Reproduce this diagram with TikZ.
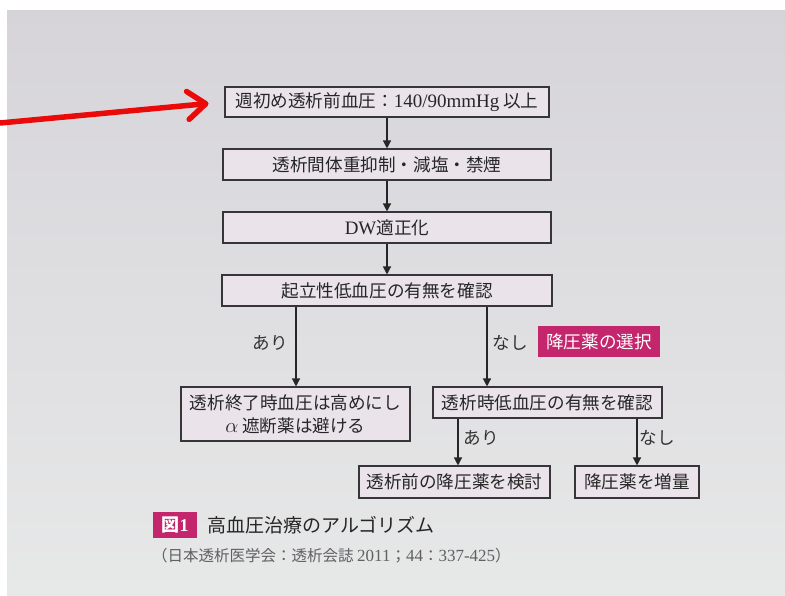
\documentclass[tikz,border=0pt]{standalone}
\usepackage{fontspec}
\setmainfont{Liberation Serif}
\newfontfamily\jp{Noto Sans CJK JP}
\usetikzlibrary{arrows.meta}
\definecolor{pagebg}{RGB}{214,212,217}
\definecolor{pagebg2}{RGB}{231,232,232}
\definecolor{boxfill}{RGB}{234,227,233}
\definecolor{boxline}{RGB}{55,52,58}
\definecolor{magentaA}{RGB}{196,38,110}
\definecolor{citegrey}{RGB}{95,95,100}
\definecolor{redarrow}{RGB}{235,10,10}
\newcommand{\latn}[1]{{\rmfamily\fontsize{19}{23}\selectfont #1}}
\begin{document}
\begin{tikzpicture}[x=1pt,y=-1pt,
  flowbox/.style={draw=boxline, fill=boxfill, line width=1.1pt, inner sep=0pt, align=center,
    font=\jp\fontsize{17.6}{23}\selectfont, text=black!85},
  arr/.style={draw=black!85, line width=1.3pt, -{Triangle[length=8pt,width=8pt]}},
  lbl/.style={font=\jp\fontsize{17.6}{20}\selectfont, text=black!80, inner sep=0pt},
  tagbox/.style={fill=magentaA, text=white, inner sep=0pt},
]
\useasboundingbox (0,0) rectangle (785,595);
\fill[white] (0,0) rectangle (785,595);
\shade[top color=pagebg, bottom color=pagebg2] (7,10) rectangle (785,595);

% main chain
\node[flowbox, minimum width=324pt, minimum height=30pt] (b1) at (387,102)
  {週初め透析前血圧：\latn{140/90mmHg} 以上};
\node[flowbox, minimum width=328pt, minimum height=31pt] (b2) at (387,164.5)
  {透析間体重抑制・減塩・禁煙};
\node[flowbox, minimum width=328pt, minimum height=31pt] (b3) at (387,227.5)
  {\latn{DW}適正化};
\node[flowbox, minimum width=330pt, minimum height=31pt] (b4) at (387,290.5)
  {起立性低血圧の有無を確認};

\draw[arr] (b1) -- (b2);
\draw[arr] (b2) -- (b3);
\draw[arr] (b3) -- (b4);

% second level
\node[flowbox, minimum width=229pt, minimum height=54pt] (b5) at (295.5,414)
  {透析終了時血圧は高めにし\\{\fontsize{21}{23}\selectfont$\alpha$} 遮断薬は避ける};
\node[flowbox, minimum width=229pt, minimum height=31pt] (b6) at (547.5,402.5)
  {透析時低血圧の有無を確認};

\coordinate (xl) at (296,0);
\coordinate (xr) at (487,0);
\draw[arr] (b4.south -| xl) -- (b5.north -| xl);
\draw[arr] (b4.south -| xr) -- (b6.north -| xr);

\node[lbl] (l1) at (270,343) {あり};
\node[lbl] (l2) at (510,343) {なし};
\node[tagbox, minimum width=122pt, minimum height=31pt, font=\jp\fontsize{17.6}{20}\selectfont] (tag) at (599,341.5) {降圧薬の選択};

% third level
\node[flowbox, minimum width=191pt, minimum height=32pt] (b7) at (454.5,482)
  {透析前の降圧薬を検討};
\node[flowbox, minimum width=124pt, minimum height=32pt] (b8) at (637,482)
  {降圧薬を増量};

\coordinate (xa) at (458,0);
\coordinate (xb) at (637,0);
\draw[arr] (b6.south -| xa) -- (b7.north -| xa);
\draw[arr] (b6.south -| xb) -- (b8.north -| xb);

\node[lbl] (l3) at (481,438) {あり};
\node[lbl] (l4) at (657,438) {なし};

% caption
\node[tagbox, minimum width=44pt, minimum height=26pt, font=\fontsize{18}{20}\selectfont\bfseries] (fig) at (175,525)
  {{\jp 図}1};
\node[anchor=west, inner sep=0pt, font=\jp\fontsize{19}{22}\selectfont, text=black!85] (cap) at (207,525)
  {高血圧治療のアルゴリズム};
\node[anchor=west, inner sep=0pt, font=\jp\fontsize{15.5}{18}\selectfont, text=citegrey] (cite) at (152,556)
  {（日本透析医学会：透析会誌 {\rmfamily\fontsize{17}{18}\selectfont 2011}；{\rmfamily\fontsize{17}{18}\selectfont 44}：{\rmfamily\fontsize{17}{18}\selectfont 337-425}）};

% red pointer
\coordinate (rs) at (0,123);
\draw[redarrow, line width=5.5pt, line cap=round,
  -{Straight Barb[round, length=18pt, width=28pt]}, shorten >=16pt] (rs) -- (b1.west);
\end{tikzpicture}
\end{document}
